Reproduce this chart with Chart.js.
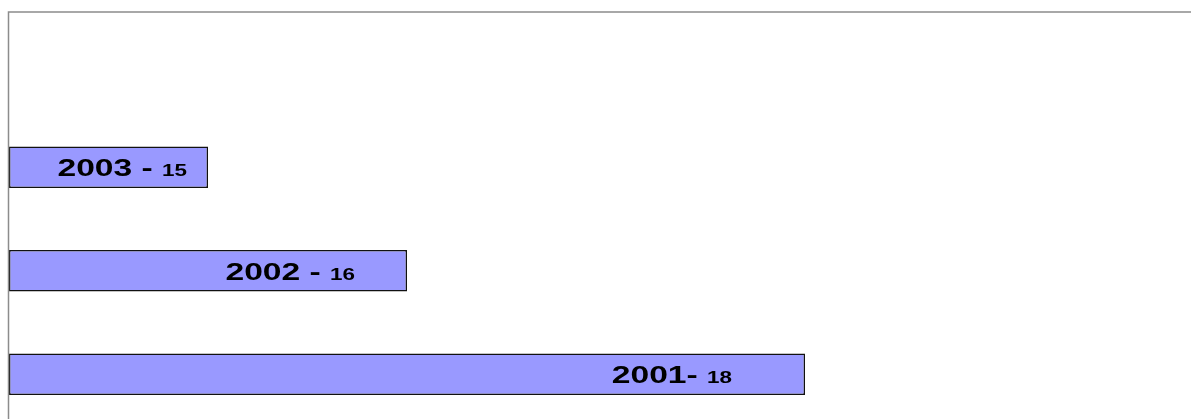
<!DOCTYPE html>
<html>
<head>
<meta charset="utf-8">
<script src="https://cdn.jsdelivr.net/npm/chart.js@4/dist/chart.umd.min.js"></script>
<style>
    html, body { margin: 0; padding: 0; background: #fff; overflow: hidden; }
    #wrap { width: 1210px; height: 430px; }
</style>
</head>
<body>
<div id="wrap"><canvas id="chart" width="1210" height="430"></canvas></div>
<script>
// chart data
const years = ['2003', '2002', '2001'];
const values = [15, 16, 18];
const yearText = ['2003 - ', '2002 - ', '2001- '];
const axisMin = 14;
const axisMax = 20;

// the original leaves an empty slot above the first bar
const labels = [''].concat(years);
const data = [null].concat(values);

// distance from bar end to label end (px)
const labelGap = [21, 52, 73];

const framePlugin = {
    id: 'frame',
    afterDraw(chart) {
        const { ctx, chartArea } = chart;
        ctx.save();
        ctx.strokeStyle = '#8c8c8c';
        ctx.lineWidth = 1.5;
        ctx.beginPath();
        ctx.moveTo(chartArea.left - 0.5, chartArea.bottom + 10);
        ctx.lineTo(chartArea.left - 0.5, chartArea.top);
        ctx.lineTo(chart.width, chartArea.top);
        ctx.stroke();
        ctx.restore();
    }
};

const labelPlugin = {
    id: 'barLabels',
    afterDatasetsDraw(chart) {
        const { ctx } = chart;
        const meta = chart.getDatasetMeta(0);
        const stretch = 1.4;
        ctx.save();
        ctx.fillStyle = '#000';
        ctx.textBaseline = 'alphabetic';
        ctx.textAlign = 'left';
        years.forEach((y, i) => {
            const bar = meta.data[i + 1];
            const big = 'bold 24px "Liberation Sans", Arial, sans-serif';
            const small = 'bold 16px "Liberation Sans", Arial, sans-serif';
            ctx.font = big;
            const w1 = ctx.measureText(yearText[i]).width;
            ctx.font = small;
            const w2 = ctx.measureText(String(values[i])).width;
            const end = bar.x - labelGap[i];
            const start = end - (w1 + w2) * stretch;
            const base = bar.y + 9;
            ctx.save();
            ctx.translate(start, base);
            ctx.scale(stretch, 1);
            ctx.font = big;
            ctx.fillText(yearText[i], 0, 0);
            ctx.font = small;
            ctx.fillText(String(values[i]), w1, 0);
            ctx.restore();
        });
        ctx.restore();
    }
};

new Chart(document.getElementById('chart'), {
    type: 'bar',
    data: {
        labels: labels,
        datasets: [{
            data: data,
            base: axisMin,
            backgroundColor: '#9999ff',
            borderColor: '#111',
            borderWidth: 1.5,
            borderSkipped: false,
            categoryPercentage: 1,
            barPercentage: 0.4
        }]
    },
    options: {
        indexAxis: 'y',
        responsive: false,
        animation: false,
        devicePixelRatio: 1,
        layout: { padding: { left: 9, top: 12, right: 7, bottom: 4 } },
        scales: {
            x: { display: false, min: axisMin, max: axisMax },
            y: { display: false }
        },
        plugins: {
            legend: { display: false },
            tooltip: { enabled: false }
        }
    },
    plugins: [framePlugin, labelPlugin]
});
</script>
</body>
</html>
